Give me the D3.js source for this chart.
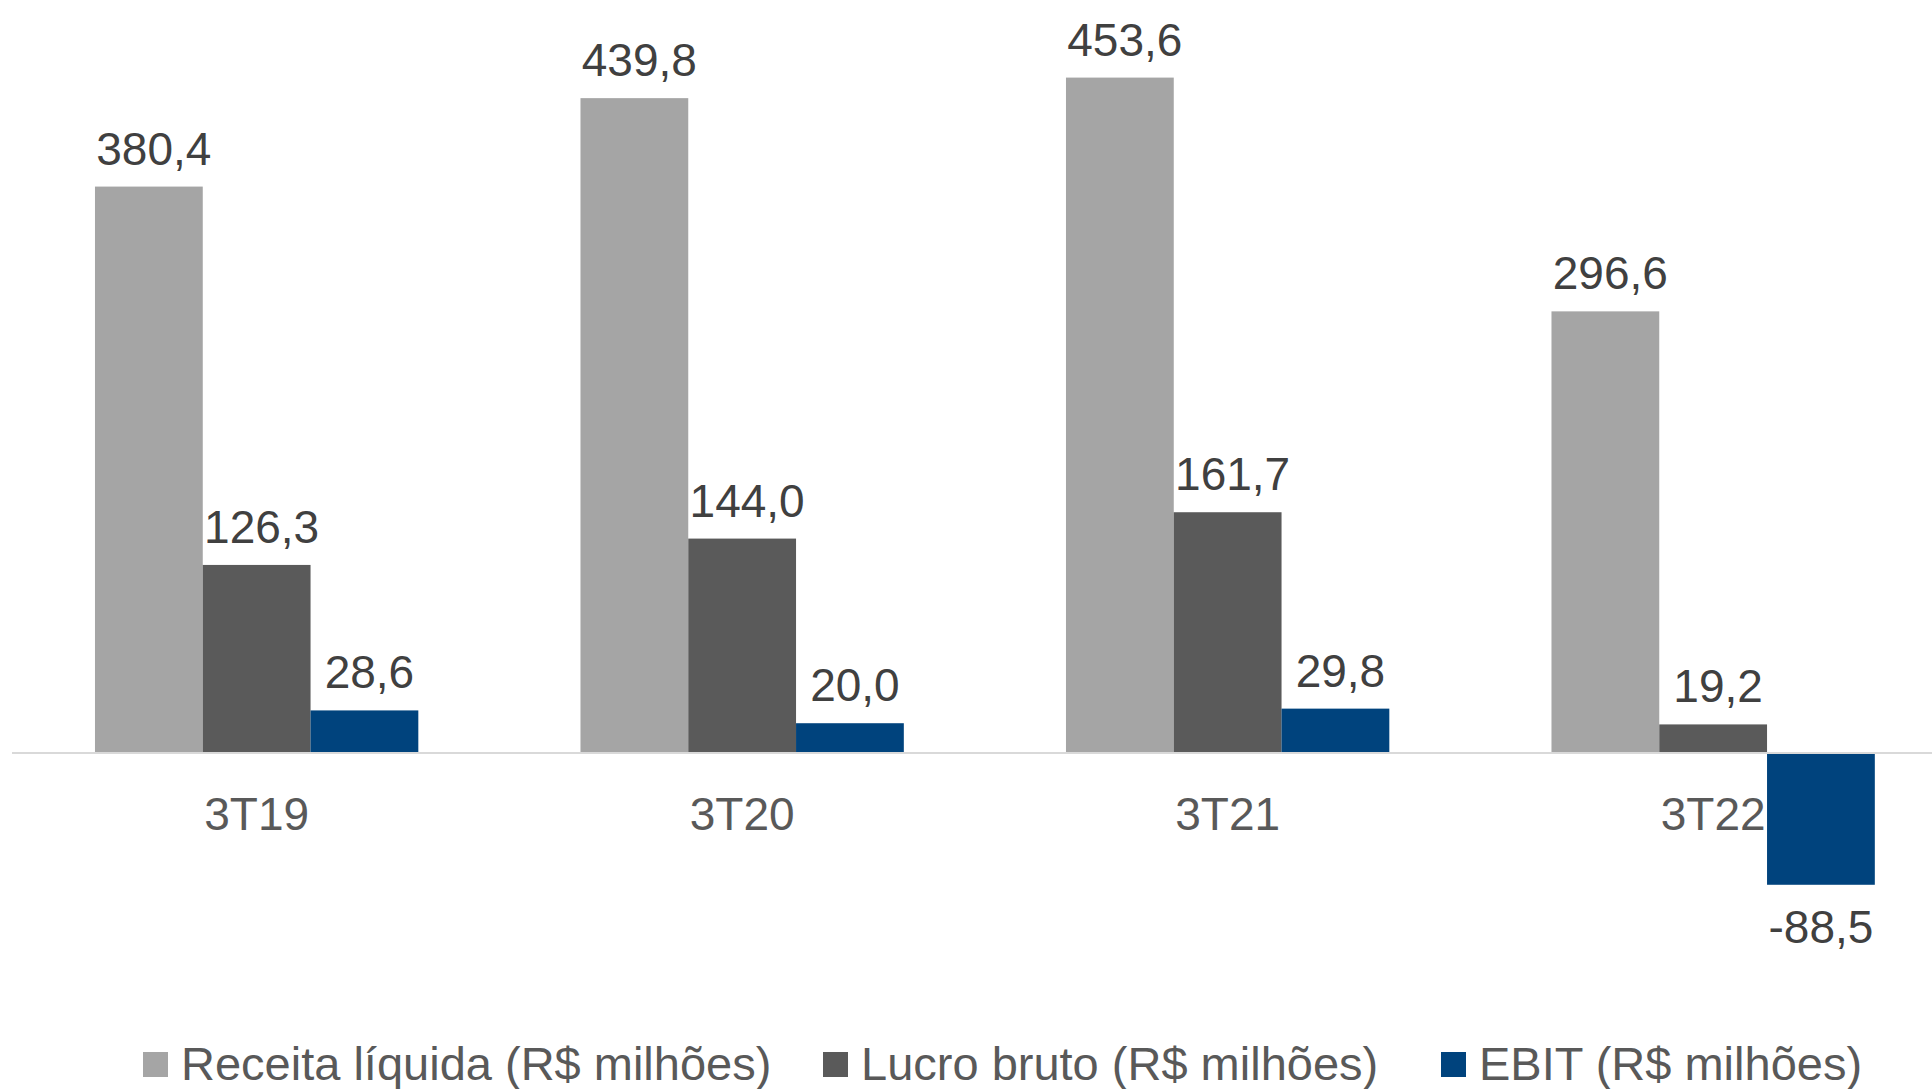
<!DOCTYPE html>
<html>
<head>
<meta charset="utf-8">
<script src="https://cdn.jsdelivr.net/npm/d3@7"></script>
<style>
  html, body { margin: 0; padding: 0; background: #ffffff; }
  svg { display: block; font-family: "Liberation Sans", Arial, Helvetica, sans-serif; }
</style>
</head>
<body>
<svg id="chart" width="1932" height="1089"></svg>
<script>
// ---- Data ----
const categories = ["3T19", "3T20", "3T21", "3T22"];
const seriesNames = ["Receita líquida (R$ milhões)", "Lucro bruto (R$ milhões)", "EBIT (R$ milhões)"];
const receitaLiquida = [380.4, 439.8, 453.6, 296.6];
const lucroBruto = [126.3, 144.0, 161.7, 19.2];
const ebit = [28.6, 20.0, 29.8, -88.5];
const seriesColors = ["#A5A5A5", "#5A5A5A", "#00437D"];

// ---- Layout ----
const W = 1932, H = 1089;
const svg = d3.select("#chart");

const allSeries = [receitaLiquida, lucroBruto, ebit];
const rows = categories.map((c, i) => ({
  cat: c,
  values: allSeries.map((s, j) => ({ key: j, value: s[i] }))
}));

const x0 = d3.scaleBand()
  .domain(categories)
  .range([13.9, 1955.9])
  .paddingInner(0.334)
  .paddingOuter(0.167);

const x1 = d3.scaleBand()
  .domain(d3.range(seriesNames.length))
  .range([0, x0.bandwidth()])
  .padding(0);

const y = d3.scaleLinear()
  .domain([-150, 500])
  .range([976.35, 8.5]);

const fmt = v => d3.format(".1f")(v).replace(".", ",").replace("−", "-");

// ---- Bars ----
const groups = svg.append("g").selectAll("g")
  .data(rows)
  .join("g")
  .attr("transform", d => `translate(${x0(d.cat)},0)`);

groups.selectAll("rect")
  .data(d => d.values)
  .join("rect")
  .attr("x", d => x1(d.key))
  .attr("width", x1.bandwidth())
  .attr("y", d => y(Math.max(0, d.value)))
  .attr("height", d => Math.abs(y(d.value) - y(0)))
  .attr("fill", d => seriesColors[d.key]);

// ---- Value labels ----
groups.selectAll("text.val")
  .data(d => d.values)
  .join("text")
  .attr("class", "val")
  .attr("x", d => x1(d.key) + x1.bandwidth() / 2 + (d.value >= 0 ? 5 : 0))
  .attr("y", d => d.value >= 0 ? y(d.value) - 22 : y(d.value) + 58.5)
  .attr("text-anchor", "middle")
  .attr("font-size", 46)
  .attr("fill", "#404040")
  .text(d => fmt(d.value));

// ---- Zero line ----
svg.append("line")
  .attr("x1", 12).attr("x2", W)
  .attr("y1", y(0)).attr("y2", y(0))
  .attr("stroke", "#D9D9D9")
  .attr("stroke-width", 2);

// ---- Category axis ----
const axis = svg.append("g")
  .attr("transform", `translate(0,${y(0)})`)
  .call(d3.axisBottom(x0).tickSize(0).tickPadding(0));
axis.select(".domain").remove();
axis.selectAll("text")
  .attr("y", 830 - y(0))
  .attr("dy", 0)
  .attr("font-size", 46)
  .attr("font-family", "\"Liberation Sans\", Arial, Helvetica, sans-serif")
  .attr("fill", "#595959");

// ---- Legend ----
const legendSquareX = [143, 823, 1441];
const legend = svg.append("g").selectAll("g")
  .data(seriesNames)
  .join("g")
  .attr("transform", (d, i) => `translate(${legendSquareX[i]},0)`);
legend.append("rect")
  .attr("x", 0).attr("y", 1052)
  .attr("width", 25).attr("height", 25)
  .attr("fill", (d, i) => seriesColors[i]);
legend.append("text")
  .attr("x", 38).attr("y", 1080)
  .attr("font-size", 47)
  .attr("fill", "#595959")
  .text(d => d);
</script>
</body>
</html>
